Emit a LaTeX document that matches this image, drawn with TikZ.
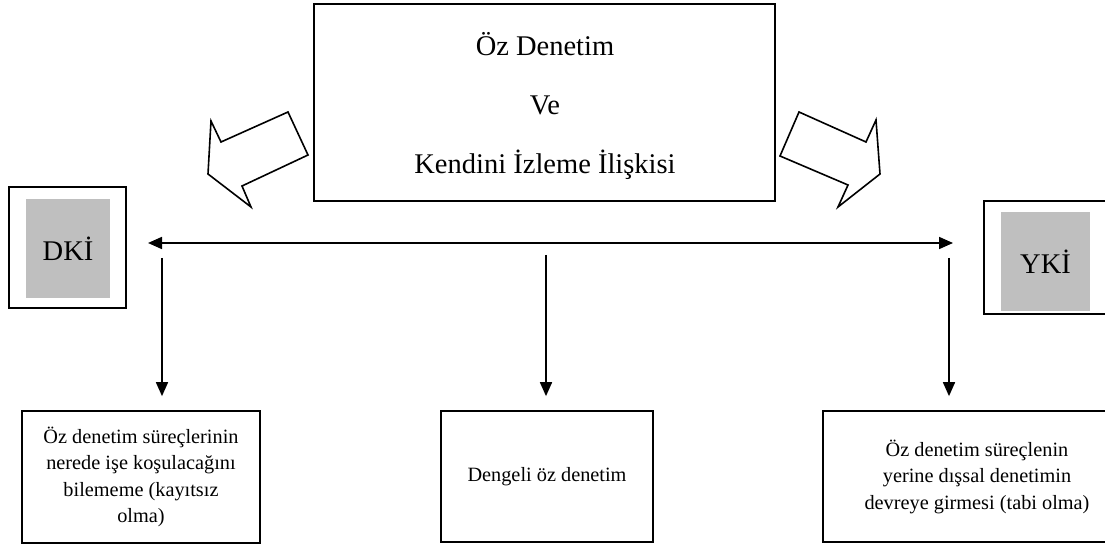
\documentclass[tikz,border=0pt]{standalone}
\usepackage{fontspec}
\setmainfont{Liberation Serif}
\usetikzlibrary{arrows.meta}
\begin{document}
\begin{tikzpicture}[x=1pt,y=-1pt,
  box/.style={draw, line width=1.7pt, inner sep=0pt, align=center},
  greybox/.style={fill=black!25, inner sep=0pt, align=center},
  tip/.style={Triangle[length=14pt,width=12pt]},
  conn/.style={line width=1.7pt, -{Triangle[length=14pt,width=12pt]}},
  blockarrow/.style={draw, line width=1.6pt, fill=white, line join=miter}]
  \clip (0,0) rectangle (1105,545);
  \fill[white] (0,0) rectangle (1105,545);

  % main box
  \node[box, minimum width=461pt, minimum height=197pt] (main) at (544.5,102.5) {};
  \node[font=\fontsize{28.5}{59}\selectfont, align=center] (maintext) at (545,106)
    {Öz Denetim\\Ve\\Kendini İzleme İlişkisi};

  % block arrows at the sides of the main box
  \draw[blockarrow] (288,112) -- (221,142) -- (211,121) -- (208,174) -- (251,207)
    -- (242,186) -- (308,155) -- cycle;
  \draw[blockarrow] (799,112) -- (866,142) -- (876,120) -- (880,174) -- (838,207)
    -- (848,185) -- (780,156) -- cycle;

  % side boxes
  \node[box, minimum width=117pt, minimum height=121pt] (dki) at (67.5,247.5) {};
  \node[greybox, minimum width=84pt, minimum height=99pt, font=\fontsize{28.5}{34}\selectfont]
    (dkil) at (68,248.5) {DKİ};
  \node[box, minimum width=124pt, minimum height=113pt] (yki) at (1046,257.5) {};
  \node[greybox, minimum width=89pt, minimum height=99pt, font=\fontsize{28.5}{34}\selectfont]
    (ykil) at (1045.5,261.5) {YKİ};

  % bottom boxes
  \node[box, minimum width=238pt, minimum height=132pt, font=\fontsize{20.3}{26.5}\selectfont]
    (left) at (141,477) {Öz denetim süreçlerinin\\nerede işe koşulacağını\\bilememe (kayıtsız\\olma)};
  \node[box, minimum width=212pt, minimum height=131pt, font=\fontsize{20.3}{26.5}\selectfont]
    (mid) at (547,476.5) {Dengeli öz denetim};
  \node[box, minimum width=308pt, minimum height=131pt, font=\fontsize{20.3}{26.5}\selectfont]
    (right) at (977,476.5) {Öz denetim süreçlenin\\yerine dışsal denetimin\\devreye girmesi (tabi olma)};

  % connectors
  \coordinate (hl) at (148,243);
  \coordinate (hr) at (953,243);
  \coordinate (vl) at (162,258);
  \coordinate (vm) at (546,255);
  \coordinate (vr) at (949,258);
  \draw[line width=1.7pt, {Triangle[length=14pt,width=12pt]}-{Triangle[length=14pt,width=12pt]}] (hl) -- (hr);
  \draw[conn, shorten >=14pt] (vl) -- (vl |- left.north);
  \draw[conn, shorten >=14pt] (vm) -- (vm |- mid.north);
  \draw[conn, shorten >=14pt] (vr) -- (vr |- right.north);
\end{tikzpicture}
\end{document}
